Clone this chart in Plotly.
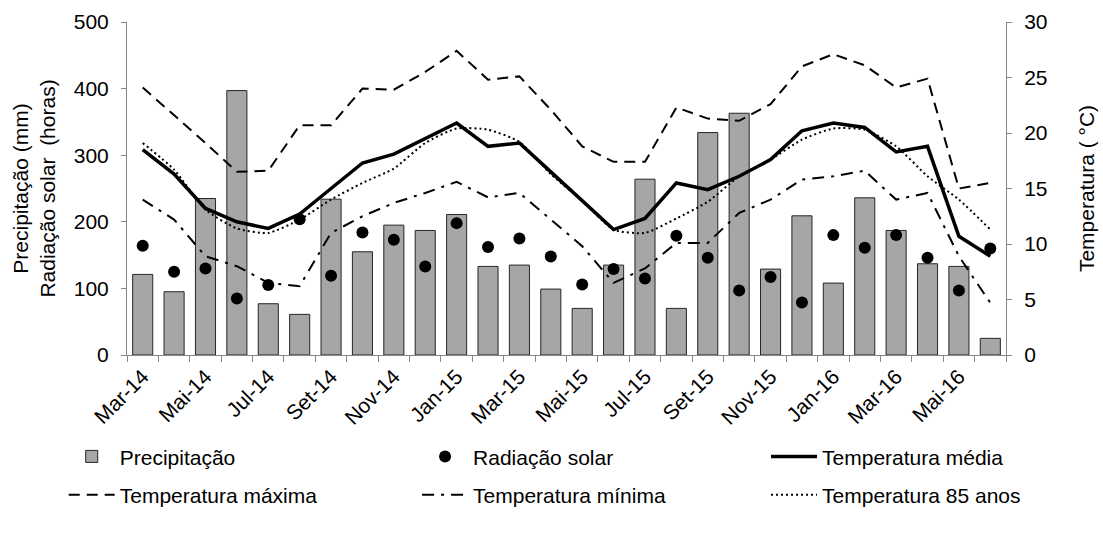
import plotly.graph_objects as go

months = ["Mar-14", "Abr-14", "Mai-14", "Jun-14", "Jul-14", "Ago-14", "Set-14", "Out-14",
          "Nov-14", "Dez-14", "Jan-15", "Fev-15", "Mar-15", "Abr-15", "Mai-15", "Jun-15",
          "Jul-15", "Ago-15", "Set-15", "Out-15", "Nov-15", "Dez-15", "Jan-16", "Fev-16",
          "Mar-16", "Abr-16", "Mai-16", "Jun-16"]

precipitacao = [121, 95, 235, 397, 77, 61, 234, 155, 195, 187, 211, 133, 135, 99,
                70, 135, 264, 70, 334, 363, 129, 209, 108, 236, 187, 137, 133, 25]

radiacao = [164, 125, 130, 85, 105, 204, 119, 184, 173, 133, 198, 162, 175, 148,
            106, 129, 115, 179, 146, 97, 117, 79, 180, 161, 180, 146, 97, 160]

temp_media = [18.5, 16.3, 13.2, 12.0, 11.4, 12.7, 15.0, 17.3, 18.1, 19.5, 20.9, 18.8, 19.1, 16.5,
              13.9, 11.3, 12.3, 15.5, 14.9, 16.1, 17.6, 20.2, 20.9, 20.5, 18.3, 18.8, 10.7, 8.9]

temp_max = [24.1, 21.6, 19.1, 16.5, 16.6, 20.7, 20.7, 24.0, 23.9, 25.5, 27.4, 24.8, 25.1, 22.1,
            18.8, 17.4, 17.4, 22.3, 21.3, 21.1, 22.6, 26.0, 27.1, 26.1, 24.1, 24.9, 15.0, 15.5]

temp_min = [14.0, 12.2, 8.9, 8.0, 6.5, 6.2, 11.0, 12.5, 13.7, 14.6, 15.6, 14.2, 14.6, 12.2,
            9.8, 6.5, 7.8, 10.1, 10.1, 12.8, 14.0, 15.8, 16.1, 16.6, 14.0, 14.6, 8.9, 4.7]

temp_85 = [19.1, 16.7, 13.1, 11.4, 11.0, 12.2, 14.0, 15.5, 16.8, 19.1, 20.4, 20.3, 19.2, 16.3,
           13.9, 11.3, 11.0, 12.3, 13.8, 16.1, 17.6, 19.4, 20.4, 20.3, 18.8, 16.1, 14.0, 11.3]

x = list(range(len(months)))
tick_idx = x[::2]
tick_text = months[::2]

FONT = "Liberation Sans, Arial, sans-serif"
FS = 21
AX = "#868686"

fig = go.Figure()

fig.add_trace(go.Bar(x=x, y=precipitacao, name="Precipitação", width=0.64,
                     marker=dict(color="#A6A6A6", line=dict(color="#262626", width=1)),
                     legend="legend", legendgroup="a"))
fig.add_trace(go.Scatter(x=x, y=temp_max, name="Temperatura máxima", mode="lines", yaxis="y2",
                         line=dict(color="black", width=2, dash="11px,7px"),
                         legend="legend", legendgroup="b"))

fig.add_trace(go.Scatter(x=x, y=radiacao, name="Radiação solar", mode="markers",
                         marker=dict(color="black", size=12),
                         legend="legend2", legendgroup="c"))
fig.add_trace(go.Scatter(x=x, y=temp_min, name="Temperatura mínima", mode="lines", yaxis="y2",
                         line=dict(color="black", width=2, dash="12px,7px,3px,7px"),
                         legend="legend2", legendgroup="d"))

fig.add_trace(go.Scatter(x=x, y=temp_media, name="Temperatura média", mode="lines", yaxis="y2",
                         line=dict(color="black", width=3.5),
                         legend="legend3", legendgroup="e"))
fig.add_trace(go.Scatter(x=x, y=temp_85, name="Temperatura 85 anos", mode="lines", yaxis="y2",
                         line=dict(color="black", width=2, dash="2px,3px", shape="spline", smoothing=0.6),
                         legend="legend3", legendgroup="f"))

leg_common = dict(orientation="v", yanchor="top", xanchor="left", y=-0.244,
                  font=dict(family=FONT, size=FS, color="black"), tracegroupgap=8,
                  itemwidth=46, bgcolor="rgba(0,0,0,0)", traceorder="grouped")

fig.update_layout(
    width=1103, height=533,
    margin=dict(l=127, r=97, t=22, b=178),
    plot_bgcolor="white", paper_bgcolor="white",
    font=dict(family=FONT, size=FS, color="black"),
    showlegend=True,
    legend=dict(x=-0.072, **leg_common),
    legend2=dict(x=0.33, **leg_common),
    legend3=dict(x=0.727, **leg_common),
    xaxis=dict(
        range=[-0.5, len(months) - 0.5], tickmode="array", tickvals=tick_idx, ticktext=tick_text,
        tickangle=-45, ticks="", showgrid=False, zeroline=False, showline=True, linecolor=AX,
        linewidth=1, automargin=False, tickfont=dict(size=FS),
        minor=dict(ticks="outside", ticklen=6, tickcolor=AX, tick0=-0.5, dtick=1, showgrid=False),
    ),
    yaxis=dict(
        range=[0, 500], dtick=100, ticks="outside", ticklen=5, tickcolor=AX, showgrid=False,
        zeroline=False, showline=True, linecolor=AX, automargin=False, ticklabelstandoff=8,
        tickfont=dict(size=FS),
        title=dict(text="Precipitação (mm)<br>Radiação solar\u00a0 (horas)", standoff=12,
                   font=dict(size=FS)),
    ),
    yaxis2=dict(
        range=[0, 30], dtick=5, overlaying="y", side="right", ticks="outside", ticklen=5,
        tickcolor=AX, showgrid=False, zeroline=False, showline=True, linecolor=AX, automargin=False,
        ticklabelstandoff=8, tickfont=dict(size=FS),
        title=dict(text="Temperatura ( °C)", standoff=32, font=dict(size=FS)),
    ),
    bargap=0.36,
)

fig.write_html("out.html")
